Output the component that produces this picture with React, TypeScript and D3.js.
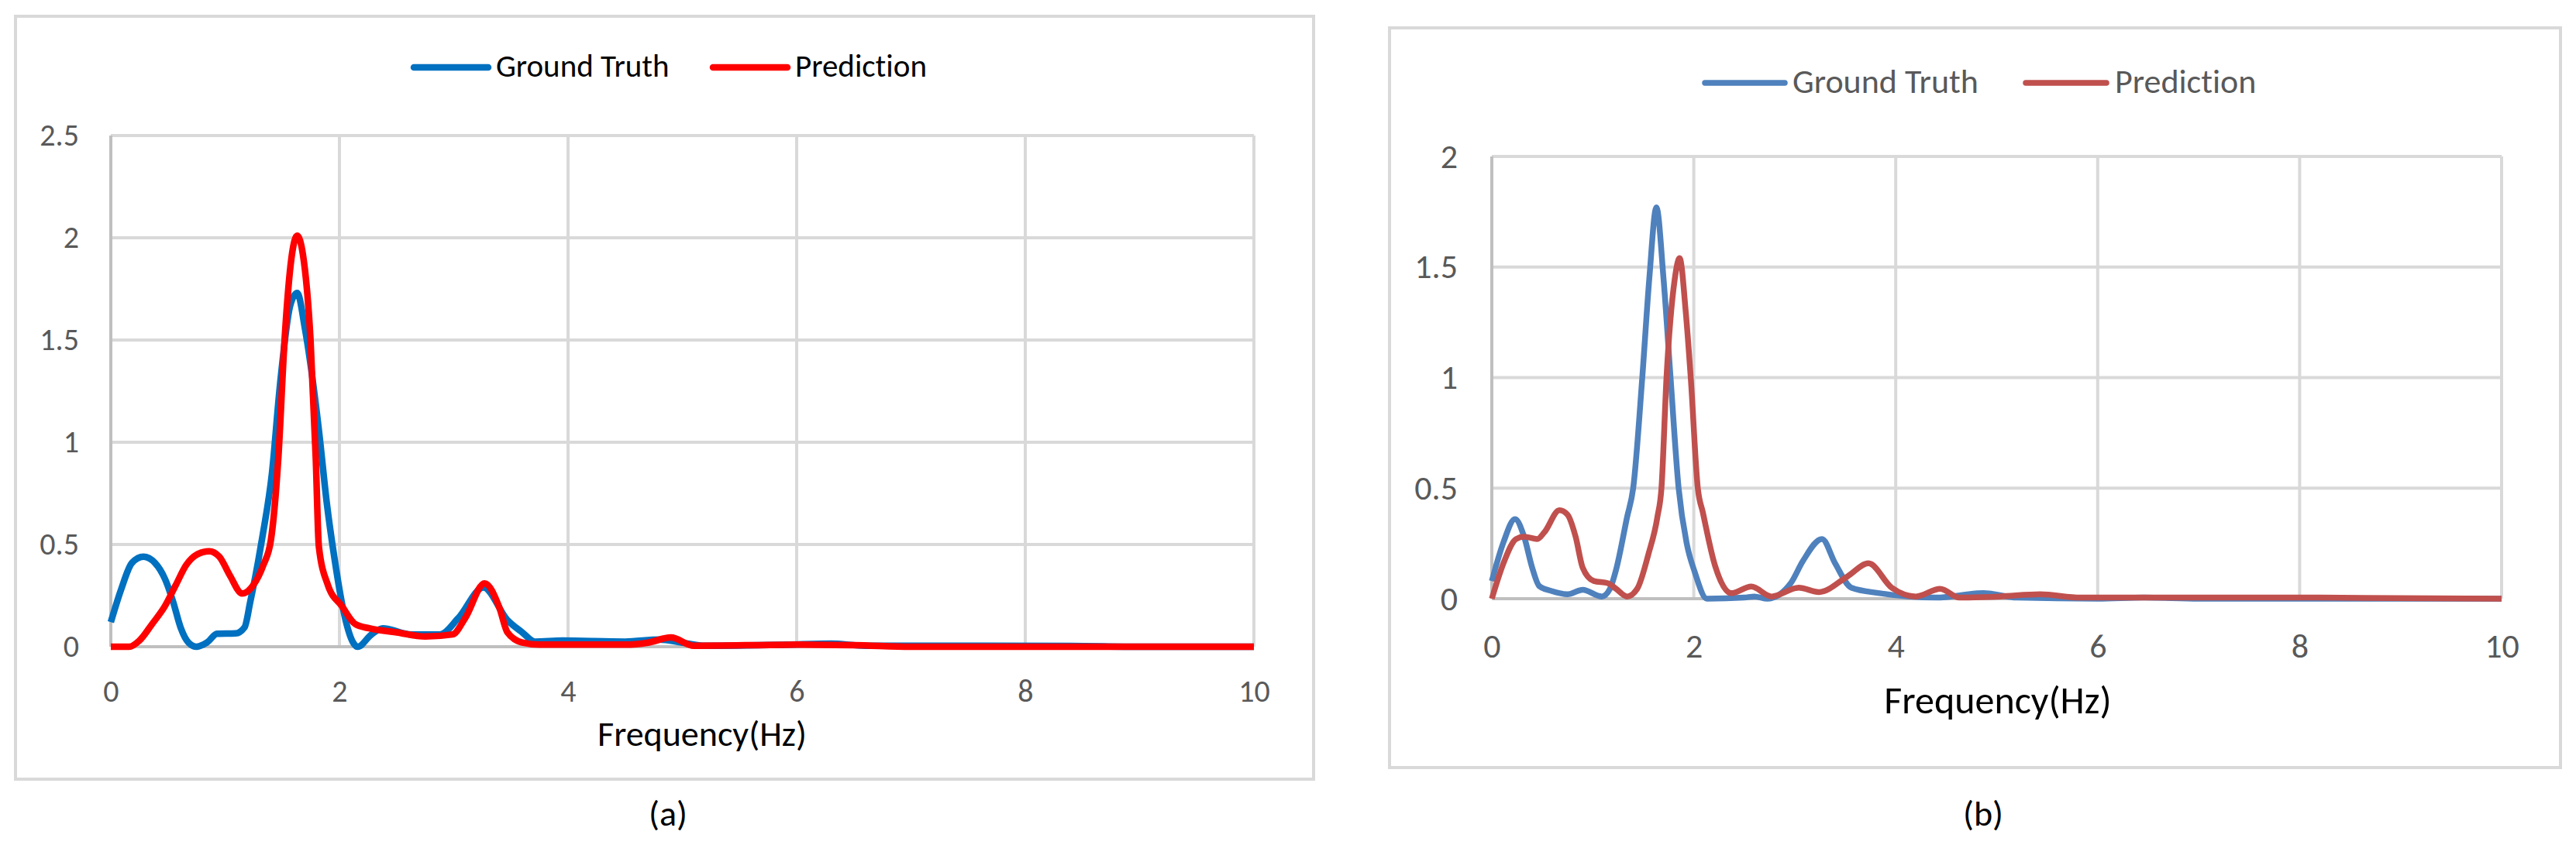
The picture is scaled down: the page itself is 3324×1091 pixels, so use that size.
import React, { useEffect, useRef } from 'react';
import * as d3 from 'd3';

// shared axis values
const xTicks = [0, 2, 4, 6, 8, 10];
const yTicksA = [0, 0.5, 1, 1.5, 2, 2.5];
const yTicksB = [0, 0.5, 1, 1.5, 2];
const seriesNames = ['Ground Truth', 'Prediction'];
const axisTitle = 'Frequency(Hz)';

// (a) ground truth spectrum
const truthFreqA = [0, 0.09, 0.185, 0.285, 0.386, 0.475, 0.545, 0.61, 0.68, 0.75, 0.84, 0.93, 1.09, 1.17, 1.22, 1.29, 1.33, 1.41, 1.48, 1.57, 1.63, 1.70, 1.82, 1.89, 1.96, 2.03, 2.12, 2.16, 2.28, 2.38, 2.63, 2.88, 3.04, 3.26, 3.47, 3.6, 3.71, 3.95, 4.5, 4.8, 5.0, 5.2, 5.9, 6.3, 6.6, 7.5, 8.4, 9, 10];
const truthValA = [0.12, 0.28, 0.41, 0.44, 0.41, 0.33, 0.22, 0.095, 0.02, 0, 0.02, 0.063, 0.065, 0.095, 0.22, 0.42, 0.55, 0.85, 1.28, 1.67, 1.73, 1.55, 1.06, 0.70, 0.42, 0.19, 0.02, 0, 0.06, 0.09, 0.06, 0.06, 0.14, 0.29, 0.13, 0.07, 0.025, 0.03, 0.025, 0.035, 0.02, 0.005, 0.01, 0.015, 0.005, 0.005, 0.004, 0, 0];

// (a) prediction spectrum
const predFreqA = [0, 0.16, 0.25, 0.36, 0.475, 0.567, 0.66, 0.75, 0.86, 0.95, 1.04, 1.15, 1.245, 1.335, 1.40, 1.465, 1.52, 1.58, 1.63, 1.68, 1.747, 1.793, 1.82, 1.90, 2.02, 2.14, 2.26, 2.5, 2.75, 2.99, 3.1, 3.27, 3.4, 3.47, 3.6, 3.75, 4.5, 4.7, 4.9, 5.1, 6.0, 6.5, 7, 10];
const predValA = [0, 0, 0.03, 0.11, 0.2, 0.30, 0.40, 0.45, 0.467, 0.44, 0.35, 0.26, 0.30, 0.40, 0.52, 0.92, 1.5, 1.9, 2.01, 1.92, 1.5, 0.92, 0.49, 0.30, 0.20, 0.11, 0.09, 0.07, 0.05, 0.06, 0.14, 0.31, 0.19, 0.07, 0.02, 0.01, 0.01, 0.02, 0.045, 0.005, 0.01, 0.008, 0, 0];

// (b) ground truth spectrum
const truthFreqB = [0, 0.115, 0.23, 0.32, 0.40, 0.47, 0.59, 0.75, 0.9, 1.09, 1.17, 1.23, 1.34, 1.40, 1.49, 1.56, 1.63, 1.70, 1.77, 1.85, 1.93, 2.01, 2.13, 2.5, 2.6, 2.73, 2.96, 3.08, 3.27, 3.4, 3.56, 3.84, 4.4, 4.87, 5.2, 6.0, 6.46, 7.0, 10];
const truthValB = [0.08, 0.255, 0.36, 0.28, 0.14, 0.057, 0.035, 0.02, 0.04, 0.01, 0.045, 0.13, 0.37, 0.5, 1.0, 1.45, 1.77, 1.45, 1.0, 0.5, 0.25, 0.12, 0, 0.005, 0.01, 0, 0.07, 0.17, 0.27, 0.16, 0.05, 0.025, 0.005, 0.025, 0.005, 0, 0.005, 0, 0];

// (b) prediction spectrum
const predFreqB = [0, 0.115, 0.24, 0.32, 0.45, 0.52, 0.67, 0.75, 0.83, 0.9, 1.01, 1.15, 1.23, 1.34, 1.44, 1.55, 1.64, 1.68, 1.73, 1.81, 1.86, 1.92, 1.97, 2.04, 2.09, 2.21, 2.37, 2.57, 2.77, 3.04, 3.24, 3.52, 3.73, 3.96, 4.2, 4.44, 4.63, 5.03, 5.43, 5.83, 6.5, 8, 10];
const predValB = [0, 0.16, 0.27, 0.28, 0.27, 0.30, 0.40, 0.38, 0.28, 0.14, 0.08, 0.07, 0.045, 0.01, 0.045, 0.2, 0.37, 0.5, 1.0, 1.44, 1.54, 1.3, 1.0, 0.5, 0.39, 0.15, 0.025, 0.055, 0.01, 0.05, 0.03, 0.10, 0.16, 0.05, 0.01, 0.045, 0.005, 0.01, 0.02, 0.005, 0.005, 0.005, 0];

const FONT = "Calibri, Carlito, 'Open Sans', sans-serif";

interface PanelConfig {
  frame: [number, number, number, number];
  plot: { left: number; right: number; top: number; bottom: number };
  yMax: number;
  yTicks: number[];
  series: Array<{ freq: number[]; val: number[] }>;
  colors: string[];
  lineWidth: number;
  tickSize: number;
  tickPadY: number;
  tickPadX: number;
  legend: { y: number; baseline: number; lines: Array<[number, number]>; textX: number[]; size: number; color: string };
  title: { x: number; y: number; size: number };
  caption: { text: string; x: number; y: number; size: number };
}

const panelA: PanelConfig = {
  frame: [20, 21, 1695, 1006],
  plot: { left: 143, right: 1618, top: 175, bottom: 835 },
  yMax: 2.5,
  yTicks: yTicksA,
  series: [{ freq: truthFreqA, val: truthValA }, { freq: predFreqA, val: predValA }],
  colors: ['#0070C0', '#FF0000'],
  lineWidth: 8.5,
  tickSize: 40,
  tickPadY: 41,
  tickPadX: 43,
  legend: { y: 87, baseline: 99, lines: [[534, 630], [920, 1016]], textX: [640, 1026], size: 41, color: '#000000' },
  title: { x: 906, y: 963, size: 46 },
  caption: { text: '(a)', x: 862, y: 1066, size: 46 },
};

const panelB: PanelConfig = {
  frame: [1793, 36, 3304, 991],
  plot: { left: 1925, right: 3228, top: 202, bottom: 773 },
  yMax: 2,
  yTicks: yTicksB,
  series: [{ freq: truthFreqB, val: truthValB }, { freq: predFreqB, val: predValB }],
  colors: ['#4F81BD', '#C0504D'],
  lineWidth: 7.5,
  tickSize: 44,
  tickPadY: 44,
  tickPadX: 45,
  legend: { y: 107, baseline: 120, lines: [[2200, 2303], [2614, 2718]], textX: [2313, 2729], size: 44, color: '#595959' },
  title: { x: 2578, y: 921, size: 50 },
  caption: { text: '(b)', x: 2559, y: 1066, size: 46 },
};

const drawPanel = (root: d3.Selection<SVGGElement, unknown, null, undefined>, cfg: PanelConfig) => {
  const { plot } = cfg;
  const [fx0, fy0, fx1, fy1] = cfg.frame;

  root.attr('font-family', FONT).style('font-variant-ligatures', 'none');

  root.append('rect')
    .attr('x', fx0).attr('y', fy0)
    .attr('width', fx1 - fx0).attr('height', fy1 - fy0)
    .attr('fill', '#ffffff')
    .attr('stroke', '#d9d9d9')
    .attr('stroke-width', 4);

  const x = d3.scaleLinear().domain([0, 10]).range([plot.left, plot.right]);
  const y = d3.scaleLinear().domain([0, cfg.yMax]).range([plot.bottom, plot.top]);

  // gridlines
  const grid = root.append('g');
  grid.selectAll('line.h')
    .data(cfg.yTicks.filter(d => d > 0))
    .join('line')
    .attr('x1', plot.left).attr('x2', plot.right)
    .attr('y1', d => y(d)).attr('y2', d => y(d))
    .attr('stroke', '#d9d9d9').attr('stroke-width', 4);
  grid.selectAll('line.v')
    .data(xTicks.filter(d => d > 0))
    .join('line')
    .attr('x1', d => x(d)).attr('x2', d => x(d))
    .attr('y1', plot.top).attr('y2', plot.bottom)
    .attr('stroke', '#d9d9d9').attr('stroke-width', 4);

  // axis lines
  root.append('line')
    .attr('x1', plot.left).attr('x2', plot.left)
    .attr('y1', plot.top).attr('y2', plot.bottom)
    .attr('stroke', '#bfbfbf').attr('stroke-width', 4);
  root.append('line')
    .attr('x1', plot.left).attr('x2', plot.right)
    .attr('y1', plot.bottom).attr('y2', plot.bottom)
    .attr('stroke', '#bfbfbf').attr('stroke-width', 4);

  // tick labels
  const yAxis = root.append('g')
    .attr('transform', `translate(${plot.left},0)`)
    .call(d3.axisLeft(y).tickValues(cfg.yTicks).tickSize(0).tickPadding(cfg.tickPadY).tickFormat(d => String(d)));
  const xAxis = root.append('g')
    .attr('transform', `translate(0,${plot.bottom})`)
    .call(d3.axisBottom(x).tickValues(xTicks).tickSize(0).tickPadding(cfg.tickPadX).tickFormat(d => String(d)));
  [yAxis, xAxis].forEach(ax => {
    ax.select('.domain').remove();
    ax.attr('font-family', FONT).attr('font-size', cfg.tickSize);
    ax.selectAll('text').attr('fill', '#595959');
  });

  // series
  const line = d3.line<[number, number]>()
    .x(d => x(d[0]))
    .y(d => y(d[1]))
    .curve(d3.curveMonotoneX);

  cfg.series.forEach((s, i) => {
    const pts = s.freq.map((f, k) => [f, s.val[k]] as [number, number]);
    root.append('path')
      .datum(pts)
      .attr('fill', 'none')
      .attr('stroke', cfg.colors[i])
      .attr('stroke-width', cfg.lineWidth)
      .attr('stroke-linejoin', 'round')
      .attr('d', line);
  });

  // legend
  seriesNames.forEach((name, i) => {
    const [lx0, lx1] = cfg.legend.lines[i];
    root.append('line')
      .attr('x1', lx0).attr('x2', lx1)
      .attr('y1', cfg.legend.y).attr('y2', cfg.legend.y)
      .attr('stroke', cfg.colors[i])
      .attr('stroke-width', cfg.lineWidth)
      .attr('stroke-linecap', 'round');
    root.append('text')
      .attr('x', cfg.legend.textX[i])
      .attr('y', cfg.legend.baseline)
      .attr('font-size', cfg.legend.size)
      .attr('fill', cfg.legend.color)
      .text(name);
  });

  root.append('text')
    .attr('x', cfg.title.x)
    .attr('y', cfg.title.y)
    .attr('text-anchor', 'middle')
    .attr('font-size', cfg.title.size)
    .attr('fill', '#000000')
    .text(axisTitle);

  root.append('text')
    .attr('x', cfg.caption.x)
    .attr('y', cfg.caption.y)
    .attr('text-anchor', 'middle')
    .attr('font-size', cfg.caption.size)
    .attr('fill', '#000000')
    .text(cfg.caption.text);
};

const App: React.FC = () => {
  const svgRef = useRef<SVGSVGElement>(null);

  useEffect(() => {
    if (!svgRef.current) return;
    const svg = d3.select(svgRef.current);
    svg.selectAll('*').remove();
    drawPanel(svg.append('g'), panelA);
    drawPanel(svg.append('g'), panelB);
  }, []);

  return (
    <div style={{ position: 'absolute', left: 0, top: 0 }}>
      <svg ref={svgRef} width={3324} height={1091} style={{ display: 'block', background: '#ffffff' }}></svg>
    </div>
  );
};

export default App;
